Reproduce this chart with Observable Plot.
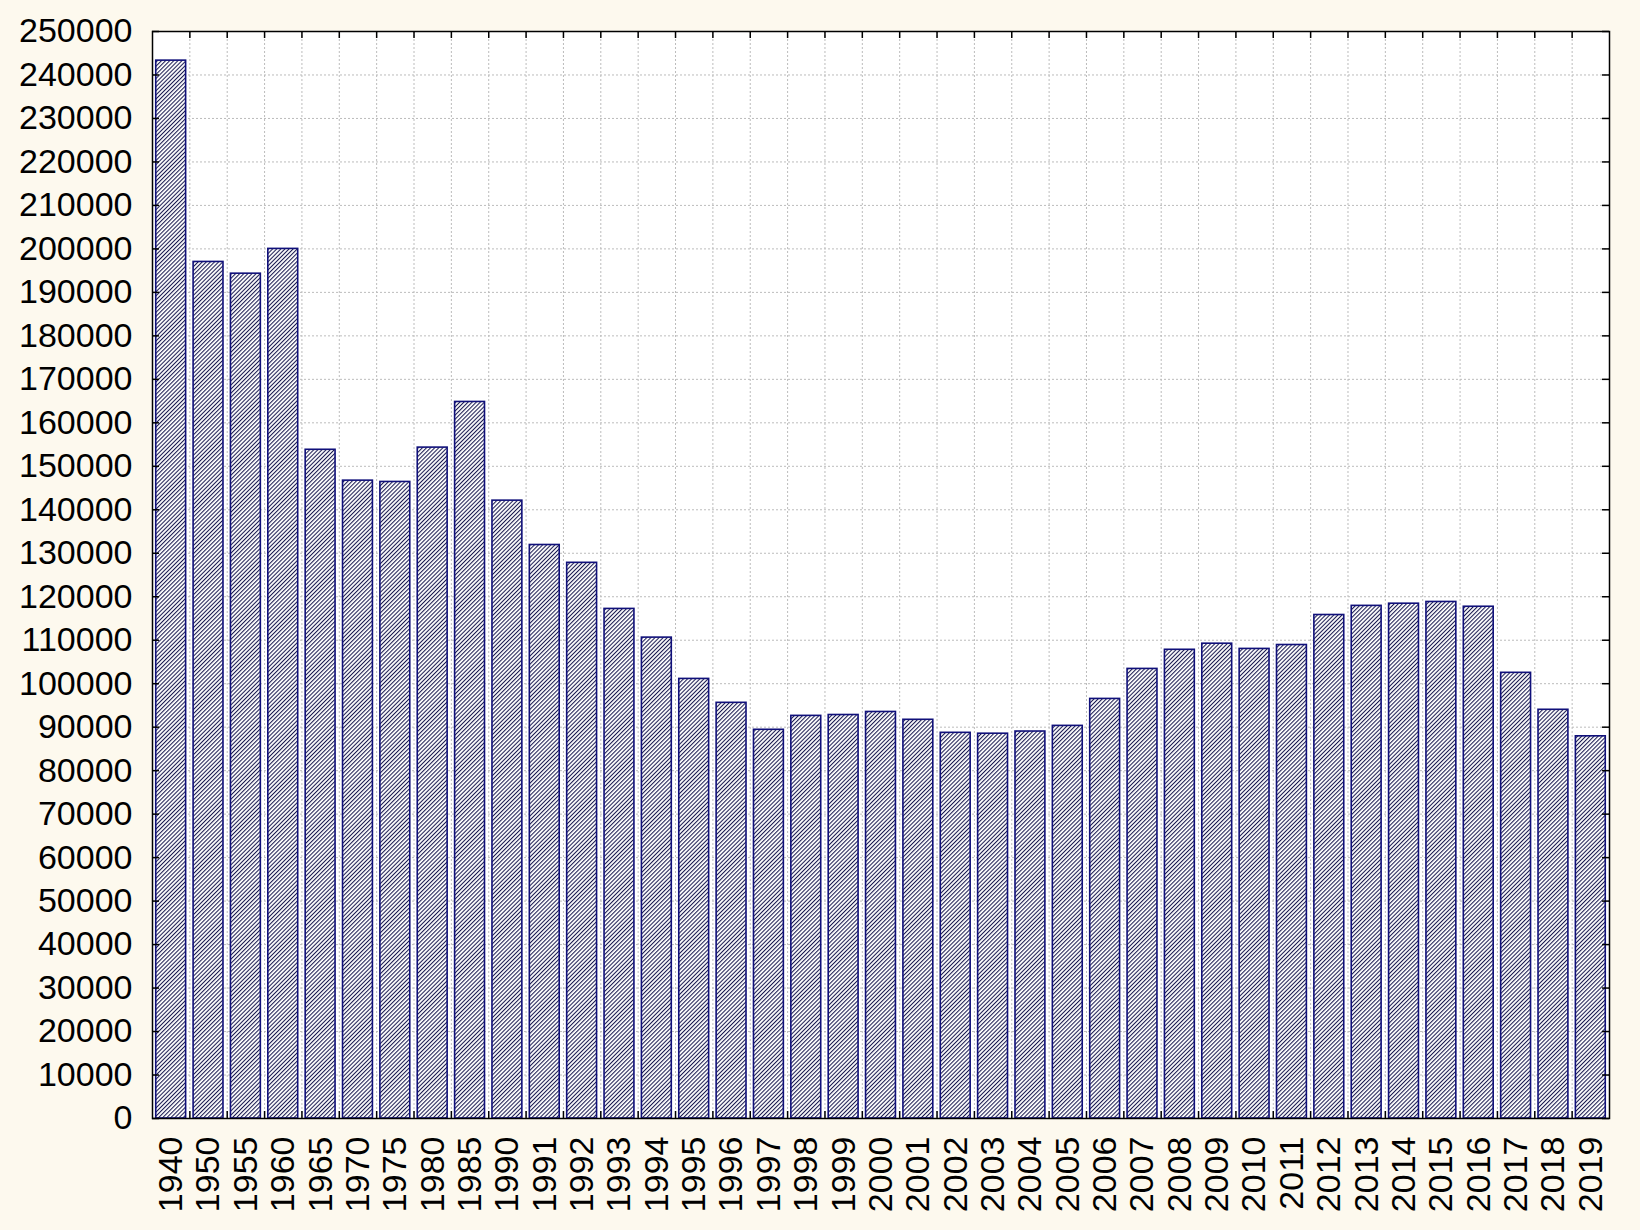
<!DOCTYPE html>
<html><head><meta charset="utf-8">
<script src="https://cdn.jsdelivr.net/npm/d3@7"></script>
<script src="https://cdn.jsdelivr.net/npm/@observablehq/plot@0.6"></script>
<style>html,body{margin:0;padding:0;background:#fdf9ee;overflow:hidden;color:#000}</style>
</head><body><div id="chart"></div>
<script>
const years = ["1940","1950","1955","1960","1965","1970","1975","1980","1985","1990",
  "1991","1992","1993","1994","1995","1996","1997","1998","1999","2000",
  "2001","2002","2003","2004","2005","2006","2007","2008","2009","2010",
  "2011","2012","2013","2014","2015","2016","2017","2018","2019"];
const births = [243300,197000,194300,200000,153800,146700,146400,154300,164800,142100,
  131900,127800,117200,110600,101100,95600,89400,92600,92800,93500,
  91700,88700,88500,89000,90300,96500,103400,107800,109200,108000,
  108900,115800,117900,118400,118800,117700,102500,94000,87900];
const yTicks = d3.range(0, 250001, 10000);

const W = 1640, H = 1230, mL = 152, mR = 31, mT = 31, mB = 112;
const innerW = W - mL - mR, innerH = H - mT - mB;
const step = innerW / years.length;
const data = years.map((y, i) => ({year: y, value: births[i]}));
const bounds = years.slice(0, -1);
const navy = "#10107a";
const grid = "#bcbcbc";

const defs = () => {
  const d = d3.create("svg:defs");
  const s = 2.9;
  const p = d.append("pattern").attr("id", "hatch").attr("patternUnits", "userSpaceOnUse")
    .attr("width", s).attr("height", s).attr("patternTransform", "rotate(45)");
  p.append("rect").attr("width", s).attr("height", s).attr("fill", "white");
  p.append("line").attr("x1", 0.5).attr("y1", 0).attr("x2", 0.5).attr("y2", s)
    .attr("stroke", "#1a1a50").attr("stroke-width", 1.1);
  return d.node();
};

const chart = Plot.plot({
  width: W, height: H,
  marginLeft: mL, marginRight: mR, marginTop: mT, marginBottom: mB,
  style: {background: "transparent", fontFamily: "Arial, 'Liberation Sans', sans-serif", color: "#000"},
  x: {type: "band", domain: years, paddingInner: 0.2, paddingOuter: 0.1, round: false},
  y: {domain: [0, 250000]},
  marks: [
    defs,
    Plot.frame({fill: "white"}),
    Plot.ruleY(yTicks.slice(1, -1), {y: d => d, stroke: grid, strokeDasharray: "2,2"}),
    Plot.ruleX(bounds, {x: d => d, dx: step / 2, stroke: grid, strokeDasharray: "2,2"}),
    Plot.barY(data, {x: "year", y: "value", fill: "url(#hatch)", stroke: navy, strokeWidth: 1.6}),
    Plot.tickY(yTicks, {y: d => d, insetRight: innerW - 7, stroke: "black", strokeWidth: 1.5}),
    Plot.tickY(yTicks, {y: d => d, insetLeft: innerW - 7, stroke: "black", strokeWidth: 1.5}),
    Plot.tickX(bounds, {x: d => d, dx: step / 2, insetTop: innerH - 7, stroke: "black", strokeWidth: 1.5}),
    Plot.tickX(bounds, {x: d => d, dx: step / 2, insetBottom: innerH - 7, stroke: "black", strokeWidth: 1.5}),
    Plot.axisY({ticks: yTicks, tickFormat: d => String(d), tickSize: 0, tickPadding: 20, fontSize: 34, label: null}),
    Plot.axisX({tickRotate: -90, tickSize: 0, tickPadding: 18, fontSize: 34, label: null}),
    Plot.frame({stroke: "black", strokeWidth: 1.5})
  ]
});
document.getElementById("chart").appendChild(chart);
</script>
</body></html>
